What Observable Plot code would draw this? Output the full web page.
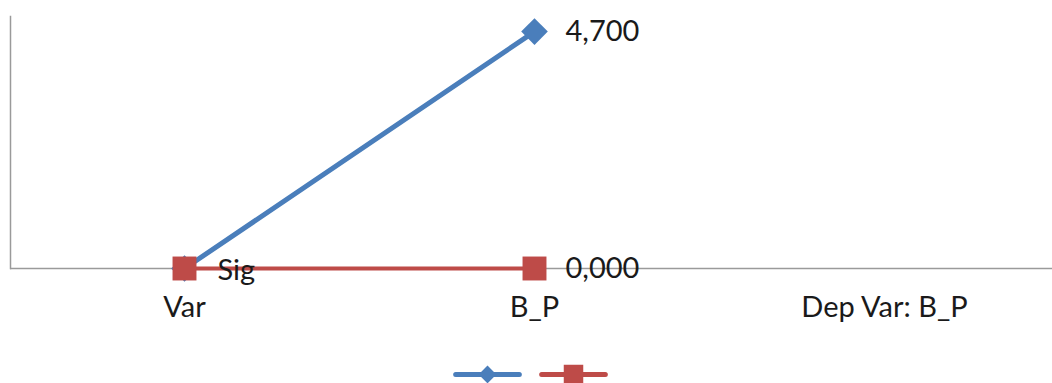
<!DOCTYPE html>
<html>
<head>
<meta charset="utf-8">
<script src="https://cdn.jsdelivr.net/npm/d3@7"></script>
<script src="https://cdn.jsdelivr.net/npm/@observablehq/plot@0.6"></script>
<style>
  html, body { margin: 0; padding: 0; background: #fff; }
  #chart svg { display: block; }
</style>
</head>
<body>
<div id="chart"></div>
<script>
// Categories along the x axis
const categories = ["Var", "B_P", "Dep Var: B_P"];

// Series values (one per category; null = no point)
const seriesNames = ["B", "Sig"];
const blueValues = [0, 4.7, null];
const redValues = [0, 0, null];

// Text labels attached to points (null = numeric value label)
const redTextLabels = ["Sig", null, null];
const blueShowLabel = [false, true, false];
const redShowLabel = [true, true, false];

const colors = {B: "#4a7ebb", Sig: "#be4b48"};
const symbols = {B: "diamond2", Sig: "square"};
const fontFamily = "Lato, 'Open Sans', sans-serif";
const fontSize = 29;
const fmt = v => d3.format(".3f")(v).replace(".", ",");

const rows = [];
categories.forEach((c, i) => {
  if (blueValues[i] != null) rows.push({series: "B", cat: c, value: blueValues[i],
    label: blueShowLabel[i] ? fmt(blueValues[i]) : null, text: false});
  if (redValues[i] != null) rows.push({series: "Sig", cat: c, value: redValues[i],
    label: redShowLabel[i] ? (redTextLabels[i] ?? fmt(redValues[i])) : null,
    text: redTextLabels[i] != null});
});
const blue = rows.filter(d => d.series === "B");
const red = rows.filter(d => d.series === "Sig");

const main = Plot.plot({
  width: 1052,
  height: 340,
  marginLeft: 10,
  marginRight: 0,
  marginTop: 16,
  marginBottom: 72,
  style: {fontFamily, fontSize: fontSize + "px", color: "#1a1a1a", background: "#fff"},
  x: {type: "point", domain: categories, range: [184, 884], padding: 0, label: null},
  y: {domain: [0, 5], axis: null},
  marks: [
    Plot.frame({anchor: "left", stroke: "#9a9a9a", strokeWidth: 1.5}),
    Plot.ruleY([0], {stroke: "#9a9a9a", strokeWidth: 1.5}),
    Plot.axisX({tickSize: 0, tickPadding: 28, fontSize, fill: "#1a1a1a"}),
    Plot.line(blue, {x: "cat", y: "value", stroke: colors.B, strokeWidth: 5}),
    Plot.dot(blue, {x: "cat", y: "value", symbol: symbols.B, r: 12, fill: colors.B, stroke: "none"}),
    Plot.line(red, {x: "cat", y: "value", stroke: colors.Sig, strokeWidth: 4}),
    Plot.dot(red, {x: "cat", y: "value", symbol: symbols.Sig, r: 13.5, fill: colors.Sig, stroke: "none"}),
    // numeric value labels
    Plot.text(rows.filter(d => d.label && !d.text), {x: "cat", y: "value", text: "label",
      dx: 31, dy: 0, textAnchor: "start", fontSize, fill: "#1a1a1a"}),
    // text labels
    Plot.text(rows.filter(d => d.label && d.text), {x: "cat", y: "value", text: "label",
      dx: 33, dy: 2, textAnchor: "start", fontSize, fill: "#1a1a1a"})
  ]
});

// Legend: one swatch (line + marker) per series, no text
const legendItems = seriesNames.map((s, i) => ({series: s, i}));
const legendMarks = [
  Plot.link(legendItems, {x1: d => d.i - 0.37, x2: d => d.i + 0.37, y1: 0, y2: 0,
    stroke: d => colors[d.series], strokeWidth: 5, strokeLinecap: "round"})
];
legendItems.forEach(item => {
  legendMarks.push(Plot.dot([item], {x: "i", y: 0, symbol: symbols[item.series],
    r: item.series === "B" ? 8 : 11, fill: colors[item.series], stroke: "none"}));
});
const legend = Plot.plot({
  width: 1052,
  height: 43,
  margin: 0,
  style: {background: "#fff"},
  x: {domain: [0, 1], range: [487, 573], axis: null},
  y: {domain: [0, 1], range: [34, 0], axis: null},
  marks: legendMarks
});

const chart = document.getElementById("chart");
chart.append(main, legend);
</script>
</body>
</html>
